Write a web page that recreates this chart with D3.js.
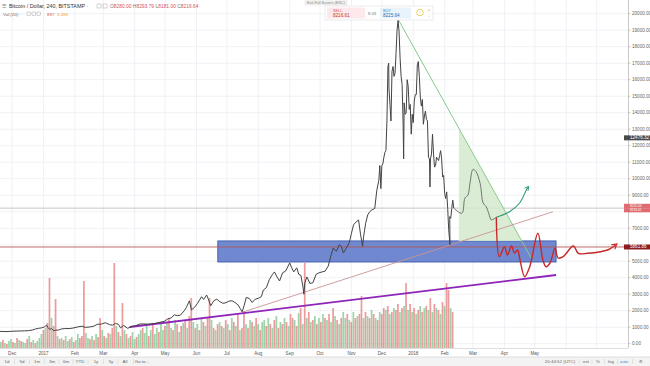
<!DOCTYPE html>
<html><head><meta charset="utf-8">
<script src="https://cdn.jsdelivr.net/npm/d3@7"></script>
<style>body{margin:0;background:#fff;overflow:hidden}svg{display:block;font-family:"Liberation Sans",Arial,sans-serif}</style>
</head><body><svg id="c" width="650" height="366"></svg>
<script>
// ---------- DATA ----------
const priceDates = [
"2016-11-19","2016-11-23","2016-11-27","2016-12-01","2016-12-05","2016-12-09","2016-12-13","2016-12-17","2016-12-21","2016-12-24","2016-12-27","2016-12-30",
"2017-01-02","2017-01-04","2017-01-05","2017-01-07","2017-01-09","2017-01-11","2017-01-13","2017-01-16","2017-01-19","2017-01-23","2017-01-27","2017-01-31",
"2017-02-04","2017-02-08","2017-02-11","2017-02-15","2017-02-19","2017-02-23","2017-02-27","2017-03-03","2017-03-07","2017-03-10","2017-03-13","2017-03-16",
"2017-03-18","2017-03-21","2017-03-25","2017-03-29","2017-04-02","2017-04-06","2017-04-10","2017-04-14","2017-04-18","2017-04-22","2017-04-26","2017-04-30",
"2017-05-04","2017-05-07","2017-05-10","2017-05-13","2017-05-16","2017-05-20","2017-05-22","2017-05-25","2017-05-27","2017-05-30","2017-06-02","2017-06-06",
"2017-06-08","2017-06-11","2017-06-13","2017-06-15","2017-06-18","2017-06-21","2017-06-24","2017-06-27","2017-06-30","2017-07-03","2017-07-06","2017-07-09",
"2017-07-12","2017-07-14","2017-07-16","2017-07-18","2017-07-20","2017-07-23","2017-07-26","2017-07-29","2017-08-01","2017-08-04","2017-08-06","2017-08-09",
"2017-08-12","2017-08-15","2017-08-17","2017-08-19","2017-08-22","2017-08-25","2017-08-28","2017-09-01","2017-09-03","2017-09-05","2017-09-08","2017-09-10",
"2017-09-12","2017-09-14","2017-09-15","2017-09-16","2017-09-18","2017-09-21","2017-09-24","2017-09-27","2017-09-30","2017-10-03","2017-10-06","2017-10-09",
"2017-10-12","2017-10-14","2017-10-17","2017-10-20","2017-10-22","2017-10-24","2017-10-27","2017-10-30","2017-11-01","2017-11-03","2017-11-05","2017-11-08",
"2017-11-10","2017-11-12","2017-11-13","2017-11-15","2017-11-17","2017-11-19","2017-11-21","2017-11-24","2017-11-26","2017-11-28","2017-11-29","2017-11-30",
"2017-12-01","2017-12-02","2017-12-03","2017-12-04","2017-12-05","2017-12-06","2017-12-07","2017-12-07T18:00Z","2017-12-08","2017-12-09","2017-12-10","2017-12-11",
"2017-12-12","2017-12-13","2017-12-14","2017-12-15","2017-12-16","2017-12-17","2017-12-18","2017-12-19","2017-12-20","2017-12-21","2017-12-22","2017-12-22T12:00Z",
"2017-12-23","2017-12-24","2017-12-25","2017-12-26","2017-12-27","2017-12-28","2017-12-29","2017-12-30","2017-12-31","2018-01-01","2018-01-02","2018-01-03",
"2018-01-04","2018-01-05","2018-01-06","2018-01-07","2018-01-08","2018-01-09","2018-01-10","2018-01-11","2018-01-12","2018-01-13","2018-01-14","2018-01-15",
"2018-01-16","2018-01-17","2018-01-17T12:00Z","2018-01-18","2018-01-19","2018-01-20","2018-01-21","2018-01-22","2018-01-23","2018-01-24","2018-01-25","2018-01-26",
"2018-01-27","2018-01-28","2018-01-29","2018-01-30","2018-01-31","2018-02-01","2018-02-02","2018-02-03","2018-02-04","2018-02-05","2018-02-06T06:00Z","2018-02-06",
"2018-02-07","2018-02-08","2018-02-09","2018-02-10"];
const priceValues = [
745,740,735,755,765,770,780,790,830,890,930,960,
1020,1130,990,880,910,790,820,830,900,920,920,960,
1020,1060,990,1010,1050,1170,1190,1270,1160,1120,1230,1170,
960,1110,930,1040,1090,1190,1200,1180,1200,1240,1300,1350,
1520,1560,1750,1700,1730,2000,2200,2600,2050,2200,2450,2850,
2680,2950,2650,2300,2600,2700,2550,2450,2480,2580,2600,2500,
2350,2150,1930,2300,2800,2750,2500,2700,2750,2850,3250,3400,
3900,4200,4350,4100,3800,4300,4400,4900,4600,4350,4600,4200,
4150,3500,3000,3700,4050,3650,3700,4200,4300,4350,4400,4700,
5400,5800,5600,6000,5900,5500,5800,6150,6700,7200,7350,7500,
6600,5900,6500,7300,7800,8000,8100,8200,9300,9900,10800,9400,
10800,10900,11300,11600,11700,13500,16800,17000,15500,14500,13500,16500,
16800,16200,16400,17600,19000,19600,18900,17300,16200,15700,13300,11200,
14600,13900,14000,16000,15600,14200,14500,12700,13900,13400,14700,15100,
15100,16900,17100,16200,14900,14400,14800,13300,13800,14100,13600,13500,
11300,11200,9500,11200,11500,12700,11500,10700,10800,11300,11200,11100,
11400,11700,11200,10100,10200,9100,8800,9200,8200,6900,6000,7700,
7600,8200,8700,8216.64];

// volume, one bar per 2 days from 2016-11-19; negative = down (red), positive = up (green)
const volumeStart = "2016-11-19";
const volumeValues = [
6,-8,5,-4,7,9,-6,5,-10,8,
-7,6,5,-9,12,-6,8,-5,7,10,
14,-18,20,-25,-70,30,-22,-49,12,-9,
10,-8,12,7,-9,11,-6,8,14,-10,
-12,-67,15,10,-9,12,-8,14,-11,-30,
18,-12,10,-15,14,-20,-85,22,-16,12,
-45,18,-14,10,-12,16,9,-11,14,18,
-20,15,22,-12,18,-25,14,20,-16,24,
18,-22,26,-30,20,-18,28,-24,16,-22,
25,-28,20,-32,-50,26,-20,24,-18,30,
-26,22,-30,-50,28,-20,18,-24,26,-22,
20,-28,24,-18,30,-26,22,-34,18,-20,
-37,24,-20,28,-26,22,-30,24,-18,26,
28,-22,30,-24,20,-28,32,-20,26,-24,
30,-26,22,-34,-30,28,-22,35,-40,24,
-85,30,-36,26,-28,32,-24,30,-26,34,
-30,28,-34,26,-40,32,-28,24,-30,36,
30,-34,28,-26,36,-30,32,-34,-52,30,
-36,32,-30,38,-34,30,-28,36,-34,-40,
38,-42,34,-36,40,-38,-44,36,-40,42,
-65,38,-44,36,-40,34,-38,42,-36,40,
-42,38,-50,36,-44,40,-38,34,-46,42,
-65,-58,40,-36];

const monthDates = ["2016-12-01","2017-01-01","2017-02-01","2017-03-01","2017-04-01","2017-05-01","2017-06-01","2017-07-01","2017-08-01","2017-09-01","2017-10-01","2017-11-01","2017-12-01","2018-01-01","2018-02-01","2018-03-01","2018-04-01","2018-05-01","2018-06-01","2018-07-01"];
const monthLabels = ["Dec","2017","Feb","Mar","Apr","May","Jun","Jul","Aug","Sep","Oct","Nov","Dec","2018","Feb","Mar","Apr","May","",""];
const priceTicks = [0,1000,2000,3000,4000,5000,6000,7000,8000,9000,10000,11000,12000,13000,14000,15000,16000,17000,18000,19000,20000];

// drawings (date, price)
const supportZone = {from:"2017-06-22", to:"2018-05-22", low:4950, high:6230};
const horizLevel = 5861.86;
const lastPrice = 8216.64;
const purpleTrend = [["2017-03-27",1012],["2018-05-22",4164]];
const thinTrend = [["2017-07-16",1900],["2018-05-19",8000]];
const greenTrend = [["2017-12-17",19666],["2018-04-28",5133]];
const greenTriangle = [["2018-02-15",13018],["2018-02-15",6230],["2018-04-18",6230]];
const brushPath = [["2018-02-10",8216],["2018-02-18",7903],["2018-02-21",8830],["2018-02-24",9012],["2018-02-26",9739],["2018-03-01",10570],["2018-03-04",10424],["2018-03-08",9721],["2018-03-11",8527],["2018-03-14",8303],["2018-03-18",7618],["2018-03-19",7497],["2018-03-24",7661]];
const redPath = [["2018-03-24",7661],["2018-03-27",5273],["2018-04-01",5879],["2018-04-04",5376],["2018-04-08",5921],["2018-04-11",5497],["2018-04-14",5679],["2018-04-16",5194],["2018-04-21",4061],["2018-04-26",4667],["2018-05-04",6691],["2018-05-09",5073],["2018-05-12",4667],["2018-05-16",4891],["2018-05-21",5800],["2018-05-24",5194],["2018-05-29",5273],["2018-06-08",5921],["2018-06-13",5479],["2018-06-22",5479],["2018-07-05",5576],["2018-07-13",5709],["2018-07-21",6042]];
const greenArrow = [["2018-03-24",7661],["2018-04-06",8000],["2018-04-16",8527],["2018-04-23",9358],["2018-04-25",9527]];
const axisMarkers = [{v:12476.32, bg:"#4a4a4a"},{v:8225.64, bg:"#e06a6f", dy:-2.1},{v:8216.61, bg:"#e06a6f", dy:2.1},{v:5861.86, bg:"#8e1b1b"}];

// ---------- CHART ----------
const P = d3.isoParse;
const svg = d3.select("#c");
const plotR = 628, plotB = 348;
const x = d3.scaleUtc().domain([P("2016-11-19"), P("2018-08-01")]).range([0, plotR]);
const y = d3.scaleLinear().domain([0, 20000]).range([343.7, 13.7]);
const yv = d3.scaleLinear().domain([0, 100]).range([plotB, plotB - 100]);

svg.append("rect").attr("width",650).attr("height",366).attr("fill","#fff");
svg.append("defs").append("clipPath").attr("id","clip").append("rect").attr("x",0).attr("y",0).attr("width",plotR).attr("height",plotB);
const defs = svg.select("defs");
function arrowMarker(id, col){
  defs.append("marker").attr("id",id).attr("viewBox","0 0 10 10").attr("refX",8).attr("refY",5)
    .attr("markerWidth",5).attr("markerHeight",5).attr("orient","auto-start-reverse")
    .append("path").attr("d","M1,1 L8,5 L1,9").attr("fill","none").attr("stroke",col).attr("stroke-width",1.6);
}
arrowMarker("arR","#c62828"); arrowMarker("arG","#2e9a72");

// grid
const g = svg.append("g").attr("clip-path","url(#clip)");
g.selectAll(".hg").data(priceTicks).join("line")
  .attr("x1",0).attr("x2",plotR).attr("y1",d=>y(d)).attr("y2",d=>y(d))
  .attr("stroke","#eceef2").attr("stroke-width",0.8);
g.selectAll(".vg").data(monthDates).join("line")
  .attr("x1",d=>x(P(d))).attr("x2",d=>x(P(d))).attr("y1",0).attr("y2",plotB)
  .attr("stroke","#eceef2").attr("stroke-width",0.8);

// volume
const vStart = P(volumeStart);
const bw = x(d3.utcDay.offset(vStart,2)) - x(vStart);
g.selectAll(".vol").data(volumeValues).join("rect")
  .attr("x",(d,i)=>x(d3.utcDay.offset(vStart,2*i)))
  .attr("width",bw*0.85)
  .attr("y",d=>yv(Math.abs(d)))
  .attr("height",d=>plotB - yv(Math.abs(d)))
  .attr("fill",d=>d<0?"#e05a5a":"#5fb872").attr("opacity",0.6);

// horizontal levels
g.append("line").attr("x1",0).attr("x2",plotR).attr("y1",y(lastPrice)).attr("y2",y(lastPrice)).attr("stroke","#bdb5b5").attr("stroke-width",0.8);

// support zone
g.append("rect").attr("x",x(P(supportZone.from))).attr("y",y(supportZone.high))
  .attr("width",x(P(supportZone.to))-x(P(supportZone.from))).attr("height",y(supportZone.low)-y(supportZone.high))
  .attr("fill","#6f88cf").attr("stroke","#3a54a8").attr("stroke-width",0.8);
g.append("line").attr("x1",0).attr("x2",plotR).attr("y1",y(horizLevel)).attr("y2",y(horizLevel)).attr("stroke","#b85858").attr("stroke-width",0.9);

// green triangle
const ln = d3.line().x(d=>x(P(d[0]))).y(d=>y(d[1]));
g.append("path").attr("d",ln(greenTriangle)+"Z").attr("fill","#d3eacc").attr("opacity",0.85);
g.append("path").attr("d",ln(greenTrend)).attr("stroke","#86c98a").attr("stroke-width",1).attr("fill","none");

// trend lines
g.append("path").attr("d",ln(thinTrend)).attr("stroke","#c99494").attr("stroke-width",0.9).attr("fill","none");
g.append("path").attr("d",ln(purpleTrend)).attr("stroke","#8e24b8").attr("stroke-width",1.8).attr("fill","none");

// price
const priceData = priceDates.map((d,i)=>[P(d), priceValues[i]]);
g.append("path").datum(priceData).attr("d",d3.line().x(d=>x(d[0])).y(d=>y(d[1])))
  .attr("fill","none").attr("stroke","#444").attr("stroke-width",1);

// brush drawings
const sm = d3.line().x(d=>x(P(d[0]))).y(d=>y(d[1])).curve(d3.curveCatmullRom.alpha(0.5));
g.append("path").attr("d",sm(brushPath)).attr("fill","none").attr("stroke","#666").attr("stroke-width",0.9);
g.append("path").attr("d",sm(greenArrow)).attr("fill","none").attr("stroke","#2e9a72").attr("stroke-width",1.1).attr("marker-end","url(#arG)");
g.append("path").attr("d",sm(redPath)).attr("fill","none").attr("stroke","#c62828").attr("stroke-width",1.4).attr("marker-end","url(#arR)");

// right axis
svg.append("line").attr("x1",plotR+0.5).attr("x2",plotR+0.5).attr("y1",0).attr("y2",plotB).attr("stroke","#c9c9c9");
const visibleTicks = priceTicks.filter(t => axisMarkers.every(m => Math.abs(y(m.v) - y(t)) > 5));
const ax = svg.append("g");
ax.selectAll("line").data(priceTicks).join("line").attr("x1",plotR).attr("x2",plotR+2.5).attr("y1",d=>y(d)).attr("y2",d=>y(d)).attr("stroke","#aaa").attr("stroke-width",0.6);
ax.selectAll("text").data(visibleTicks).join("text").attr("x",plotR+4).attr("y",d=>y(d)+1.6)
  .attr("font-size",4.6).attr("fill","#666").text(d=>d3.format(".2f")(d));
axisMarkers.forEach(m=>{
  const yy = y(m.v) + (m.dy||0);
  const h = m.dy ? 4.2 : 5;
  svg.append("rect").attr("x",plotR-4).attr("y",yy-h/2).attr("width",650-plotR+4).attr("height",h).attr("fill",m.bg);
  svg.append("text").attr("x",plotR+2).attr("y",yy+(m.dy?1.1:1.5)).attr("font-size",m.dy?3.2:4.6).attr("fill","#fff").text(d3.format(".2f")(m.v));
});

// time axis
svg.append("line").attr("x1",0).attr("x2",plotR).attr("y1",plotB+0.5).attr("y2",plotB+0.5).attr("stroke","#ddd");
svg.selectAll(".tl").data(monthDates).join("text").attr("x",d=>x(P(d))).attr("y",355)
  .attr("text-anchor","middle").attr("font-size",4.6).attr("fill","#555").text((d,i)=>monthLabels[i]);

// bottom toolbar
svg.append("rect").attr("x",0).attr("y",357).attr("width",650).attr("height",9).attr("fill","#f3f3f3");
svg.append("line").attr("x1",0).attr("x2",650).attr("y1",357).attr("y2",357).attr("stroke","#dedede");
const tb = [["1d",7],["5d",22],["1m",37],["3m",52],["6m",66],["YTD",80],["1y",96],["5y",111],["All",125],["Go to...",142]];
tb.forEach((t,i)=>{
  svg.append("text").attr("x",t[1]).attr("y",363).attr("text-anchor","middle").attr("font-size",4.4).attr("fill","#666").text(t[0]);
  if(i<tb.length-1) svg.append("line").attr("x1",(t[1]+tb[i+1][1])/2).attr("x2",(t[1]+tb[i+1][1])/2).attr("y1",359).attr("y2",364).attr("stroke","#ccc").attr("stroke-width",0.5);
});
const tr = [["20:44:52 (UTC)",560],["ext",586],["%",598],["log",611],["auto",624],["⚙",641]];
tr.forEach((t,i)=>{
  svg.append("text").attr("x",t[1]).attr("y",363).attr("text-anchor","middle").attr("font-size",4.4).attr("fill",t[0]==="auto"?"#4a90d9":"#666").text(t[0]);
  if(i<tr.length-1) svg.append("line").attr("x1",(t[1]+tr[i+1][1])/2+ (i===0?6:0)).attr("x2",(t[1]+tr[i+1][1])/2+(i===0?6:0)).attr("y1",359).attr("y2",364).attr("stroke","#ccc").attr("stroke-width",0.5);
});

// legend top-left
const lg = svg.append("g");
lg.append("text").attr("x",2).attr("y",8).attr("font-size",5.2).attr("fill","#777").text("☰");
lg.append("text").attr("x",9).attr("y",8).attr("font-size",5.4).attr("fill","#333").text("Bitcoin / Dollar, 240, BITSTAMP ·");
lg.append("rect").attr("x",97).attr("y",4).attr("width",4).attr("height",4).attr("fill","none").attr("stroke","#aaa").attr("stroke-width",0.5);
lg.append("rect").attr("x",103).attr("y",4).attr("width",4).attr("height",4).attr("fill","none").attr("stroke","#aaa").attr("stroke-width",0.5);
const ohlcK = ["O","H","L","C"], ohlcV = ["8280.00","8293.79","8181.00","8216.64"];
const ot = lg.append("text").attr("x",110).attr("y",8).attr("font-size",4.9);
ohlcK.forEach((k,i)=>{ ot.append("tspan").attr("fill","#777").text((i?" ":"")+k); ot.append("tspan").attr("fill","#d9534f").text(ohlcV[i]); });
lg.append("text").attr("x",3).attr("y",15.5).attr("font-size",4.4).attr("fill","#666").text("Vol (20) ·");
[27,32,37].forEach(px=>lg.append("rect").attr("x",px).attr("y",12).attr("width",3.5).attr("height",3.5).attr("fill","none").attr("stroke","#aaa").attr("stroke-width",0.5));
lg.append("text").attr("x",47).attr("y",15.5).attr("font-size",4.4).attr("fill","#d9534f").text("897");
lg.append("text").attr("x",57).attr("y",15.5).attr("font-size",4.4).attr("fill","#f0a030").text("3.498");

// exit fullscreen tooltip + trade panel
svg.append("rect").attr("x",305).attr("y",-1).attr("width",42).attr("height",6).attr("fill","#f2f2f2").attr("stroke","#ddd").attr("stroke-width",0.5);
svg.append("text").attr("x",326).attr("y",3.6).attr("text-anchor","middle").attr("font-size",3.8).attr("fill","#888").text("Exit Full Screen (ESC)");
svg.append("rect").attr("x",325).attr("y",6).attr("width",108).attr("height",14).attr("fill","#fff").attr("stroke","#ddd").attr("stroke-width",0.6);
svg.append("rect").attr("x",327).attr("y",7.5).attr("width",38).attr("height",11).attr("fill","#fde9ec");
svg.append("rect").attr("x",380).attr("y",7.5).attr("width",31).attr("height",11).attr("fill","#e9f3fb");
svg.append("text").attr("x",333).attr("y",11.5).attr("font-size",3.8).attr("fill","#e25563").text("SELL");
svg.append("text").attr("x",333).attr("y",16.5).attr("font-size",4.6).attr("fill","#c0392b").text("8216.61");
svg.append("text").attr("x",372).attr("y",14.5).attr("text-anchor","middle").attr("font-size",4.4).attr("fill","#777").text("9.03");
svg.append("text").attr("x",383).attr("y",11.5).attr("font-size",3.8).attr("fill","#3a8fd0").text("BUY");
svg.append("text").attr("x",383).attr("y",16.5).attr("font-size",4.6).attr("fill","#2a6fb0").text("8225.64");
svg.append("circle").attr("cx",420).attr("cy",12.5).attr("r",3.3).attr("fill","none").attr("stroke","#e8c33a").attr("stroke-width",0.8);
svg.append("text").attr("x",420).attr("y",14).attr("text-anchor","middle").attr("font-size",4).attr("fill","#d6a914").text("!");
svg.append("text").attr("x",429).attr("y",11).attr("text-anchor","middle").attr("font-size",4).attr("fill","#777").text("+");
svg.append("text").attr("x",429).attr("y",17).attr("text-anchor","middle").attr("font-size",4).attr("fill","#777").text("-");
</script></body></html>
